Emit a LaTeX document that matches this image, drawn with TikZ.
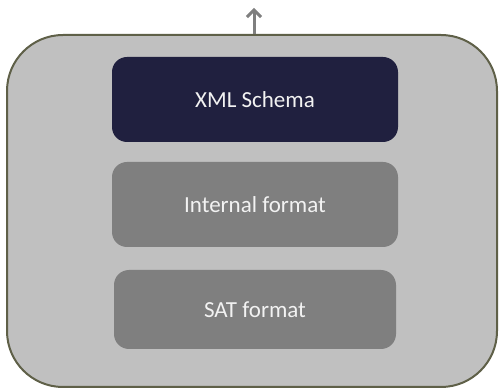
\documentclass[tikz,border=0pt]{standalone}
\usepackage{fontspec}
\setmainfont{Carlito}
\usetikzlibrary{arrows.meta}
\definecolor{outerfill}{HTML}{C0C0C0}
\definecolor{outerline}{HTML}{5F6048}
\definecolor{navy}{HTML}{20203F}
\definecolor{boxgray}{HTML}{7F7F7F}
\definecolor{txt}{HTML}{F2F2F2}
\tikzset{
  layerbox/.style={rounded corners=15pt, inner sep=0pt, text=txt, font=\fontsize{23}{27}\selectfont, align=center},
  container/.style={draw=outerline, line width=2pt, fill=outerfill, rounded corners=56pt, inner sep=0pt},
  uparrow/.style={draw=boxgray, line width=3pt, -{Straight Barb[length=7pt,width=14pt]}}
}
\begin{document}
\begin{tikzpicture}[x=1pt,y=-1pt]
\useasboundingbox (0,0) rectangle (499,390);
\node[container, minimum width=490pt, minimum height=352pt] (outer) at (252,211) {};
\node[layerbox, fill=navy, minimum width=286pt, minimum height=85pt] (xml) at (255,99.5) {XML Schema};
\node[layerbox, fill=boxgray, minimum width=286pt, minimum height=85pt] (internal) at (255,204.5) {Internal format};
\node[layerbox, fill=boxgray, minimum width=282pt, minimum height=79pt] (sat) at (255,309.5) {SAT format};
\coordinate (tail) at (254,34);
\coordinate (tip) at (254,8);
\draw[uparrow] (tail) -- (tip);
\end{tikzpicture}
\end{document}
